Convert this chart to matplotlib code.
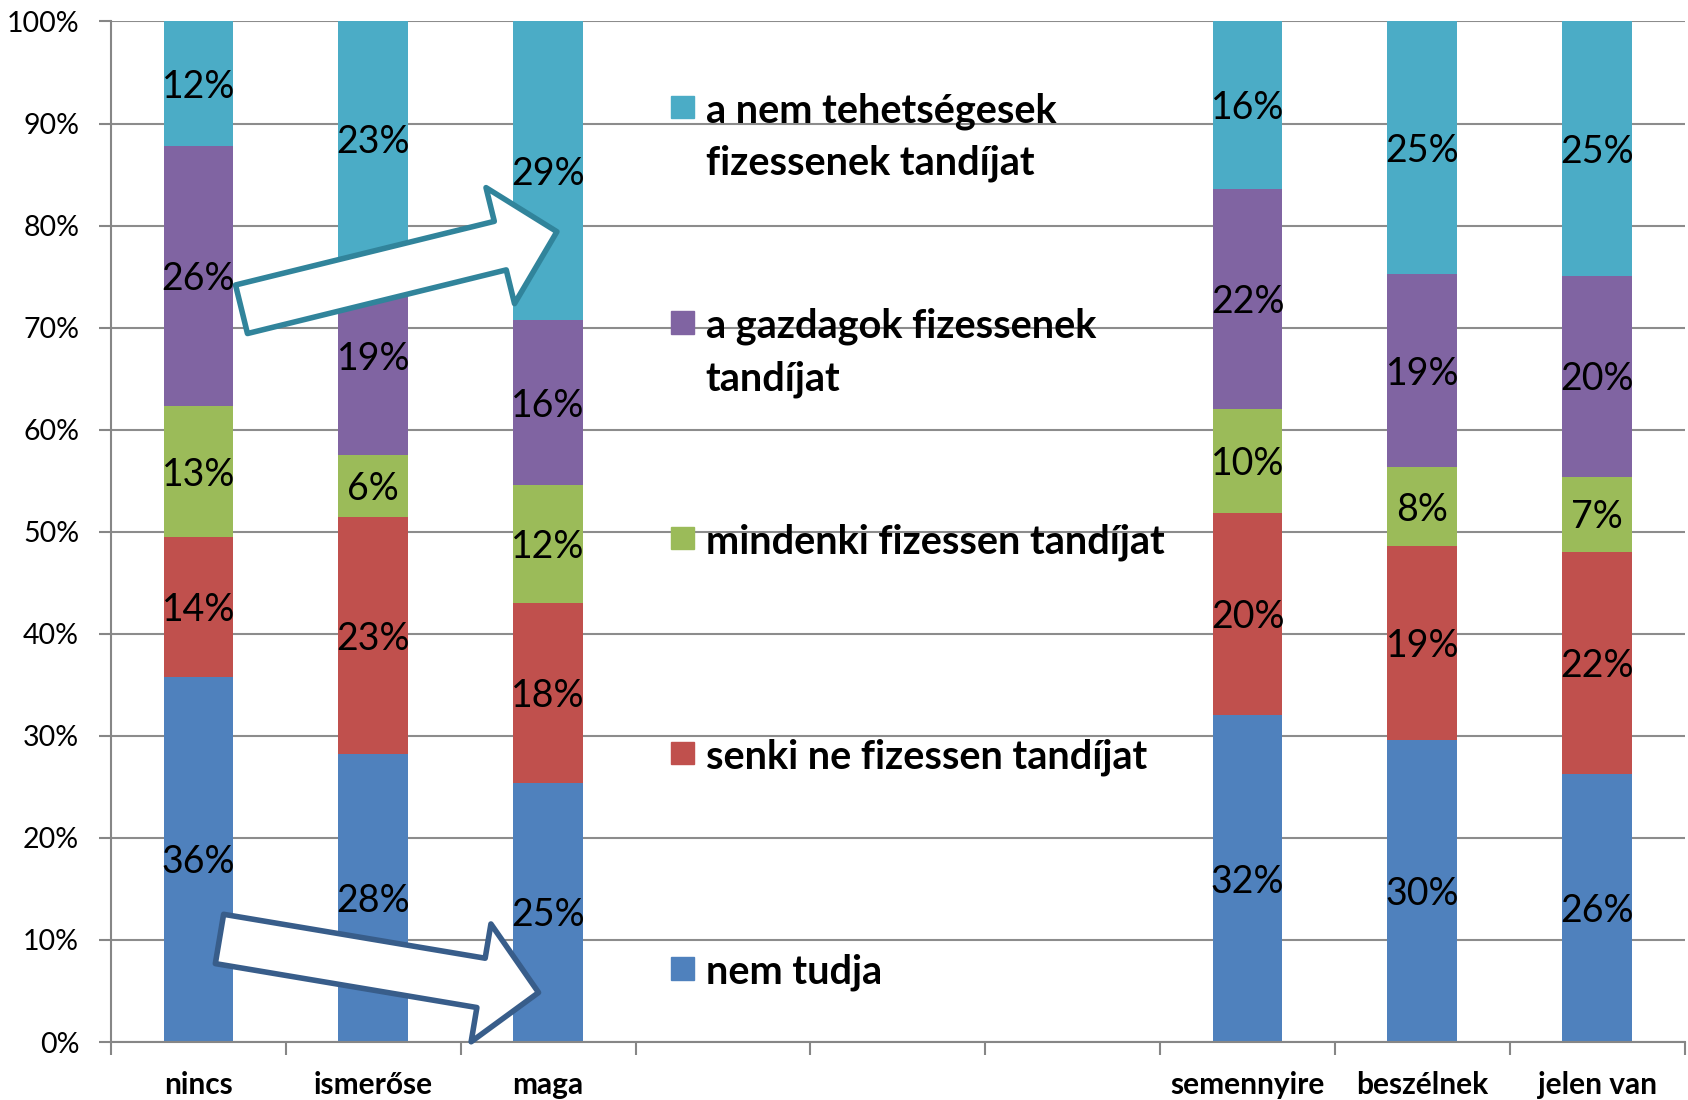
import numpy as np
import matplotlib.pyplot as plt
from matplotlib.patches import Rectangle

plt.rcParams['font.family'] = ['Lato', 'DejaVu Sans']

categories = ["nincs", "ismerőse", "maga", "", "", "", "semennyire", "beszélnek", "jelen van"]

# shares in %, bottom to top; empty slots are 0
nem_tudja = [35.8, 28.2, 25.4, 0, 0, 0, 32.0, 29.6, 26.3]
senki = [13.7, 23.2, 17.6, 0, 0, 0, 19.8, 19.0, 21.7]
mindenki = [12.8, 6.1, 11.6, 0, 0, 0, 10.2, 7.7, 7.4]
gazdagok = [25.5, 19.4, 16.1, 0, 0, 0, 21.6, 19.0, 19.7]
nem_tehetsegesek = [12.2, 23.1, 29.3, 0, 0, 0, 16.4, 24.7, 24.9]

series = [nem_tudja, senki, mindenki, gazdagok, nem_tehetsegesek]
names = ["nem tudja", "senki ne fizessen tandíjat", "mindenki fizessen tandíjat",
         "a gazdagok fizessenek\ntandíjat", "a nem tehetségesek\nfizessenek tandíjat"]
colors = ["#4F81BD", "#C0504D", "#9BBB59", "#8064A2", "#4BACC6"]

fig = plt.figure(figsize=(16.88, 11), dpi=100)
ax = fig.add_axes([0.0658, 0.0527, 0.9322, 0.9278])

x = np.arange(len(categories))
bottom = np.zeros(len(categories))
for vals, col in zip(series, colors):
    v = np.array(vals, dtype=float)
    ax.bar(x, v, 0.4, bottom=bottom, color=col, zorder=2)
    for xi, b, h in zip(x, bottom, v):
        if h > 0:
            ax.text(xi, b + h / 2 - 0.3, f"{round(h):.0f}%", ha="center", va="center",
                    fontsize=27, color="black", zorder=3)
    bottom += v

ax.set_xlim(-0.5, 8.5)
ax.set_ylim(0, 100)
ax.set_yticks(np.arange(0, 101, 10))
ax.set_yticklabels([f"{t}%" for t in range(0, 101, 10)], fontsize=20.5)
ax.set_xticks(x)
ax.set_xticklabels(categories, fontsize=21.5, fontweight="bold")
ax.set_xticks(np.arange(-0.5, 9, 1), minor=True)
ax.tick_params(axis="x", which="major", length=0, pad=21)
ax.tick_params(axis="x", which="minor", length=9, width=1.5, color="#868686")
ax.tick_params(axis="y", length=9, width=1.5, color="#868686", pad=14)
ax.grid(axis="y", color="#8c8c8c", lw=1.5, zorder=0)
for s in ["top", "right"]:
    ax.spines[s].set_visible(False)
for s in ["left", "bottom"]:
    ax.spines[s].set_color("#868686")
    ax.spines[s].set_linewidth(1.5)

# legend drawn inside the plot, top entry first
leg_y = [0.916, 0.705, 0.494, 0.283, 0.072]
for yy, name, col in zip(leg_y, names[::-1], colors[::-1]):
    ax.add_patch(Rectangle((0.356, yy - 0.011), 0.0145, 0.022, transform=ax.transAxes,
                           color=col, zorder=4, clip_on=False))
    ax.text(0.378, yy + 0.0145, name, transform=ax.transAxes, ha="left", va="top",
            fontsize=28.5, fontweight="bold", linespacing=1.5, zorder=4)

# block arrows
ax.annotate("", xy=(2.05, 79.4), xytext=(0.246, 71.8),
            arrowprops=dict(arrowstyle="simple,head_length=1.05,head_width=2.15,tail_width=0.9",
                            mutation_scale=40, fc="white", ec="#31849B", lw=4,
                            shrinkA=0, shrinkB=0), zorder=5)
ax.annotate("", xy=(1.945, 4.85), xytext=(0.12, 10.1),
            arrowprops=dict(arrowstyle="simple,head_length=1.05,head_width=2.15,tail_width=0.9",
                            mutation_scale=40, fc="white", ec="#385D8A", lw=4,
                            shrinkA=0, shrinkB=0), zorder=5)

fig.savefig("out.png", dpi=100)
